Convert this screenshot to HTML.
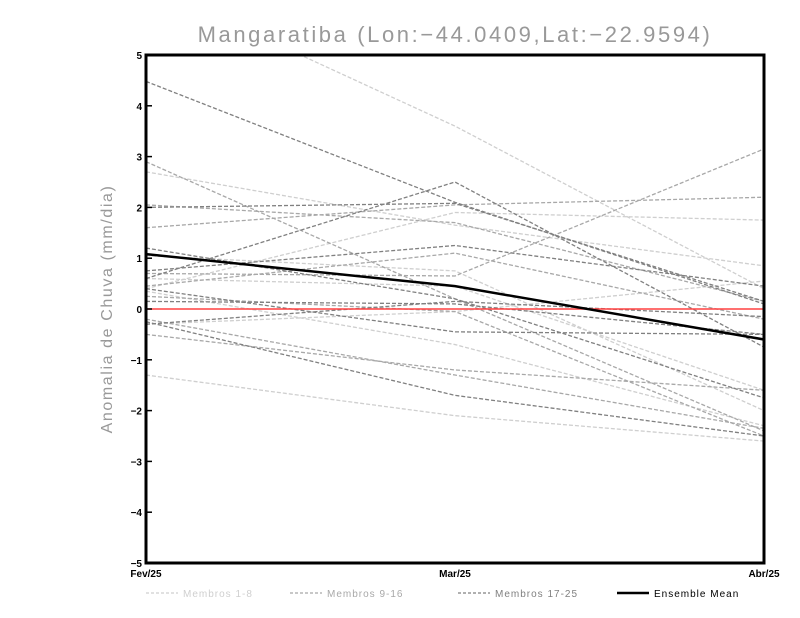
<!DOCTYPE html>
<html><head><meta charset="utf-8"><style>
body{margin:0;background:#fff;}
svg{display:block;font-family:"Liberation Sans",sans-serif;}
</style></head><body>
<svg id="chart" width="800" height="618">
<text x="455" y="42" text-anchor="middle" font-size="22" fill="#999" style="letter-spacing:2.6px">Mangaratiba (Lon:−44.0409,Lat:−22.9594)</text>
<text transform="translate(112,309) rotate(-90)" text-anchor="middle" font-size="16" fill="#999" style="letter-spacing:1.6px">Anomalia de Chuva (mm/dia)</text>
<g id="grid"></g>
<g id="series"></g>
<rect x="146" y="55" width="618" height="508" fill="none" stroke="#000" stroke-width="3"/>
<g id="axes"></g>
<g id="legend"></g>
</svg>
<script>
const categories=["Fev/25","Mar/25","Abr/25"];
const yTicks=[5,4,3,2,1,0,-1,-2,-3,-4,-5];
// group: 1 = Membros 1-8, 2 = 9-16, 3 = 17-25
const memberGroups=[1,1,1,1,1,1,1,1,2,2,2,2,2,2,2,2,3,3,3,3,3,3,3,3,3];
const memberValues=[
[6.4,3.6,0.4],[2.7,1.65,0.85],[0.4,1.9,1.75],[-1.3,-2.1,-2.6],[1.05,0.75,-2.0],[0.35,-0.7,-2.3],[-0.3,-0.05,0.55],[0.6,0.45,-1.6],
[2.9,0.2,-2.4],[1.6,2.05,2.2],[0.7,0.65,3.15],[-0.5,-1.2,-1.6],[0.45,1.1,-0.2],[0.25,-0.05,-2.5],[2.05,1.7,0.15],[-0.2,-1.3,-2.35],
[4.48,2.1,0.1],[2.0,2.08,0.15],[1.2,0.2,-1.75],[0.75,1.25,0.45],[0.15,0.1,-0.5],[-0.25,-1.7,-2.5],[0.6,2.5,-0.75],[0.4,-0.45,-0.5],[-0.3,0.15,-0.15]
];
const ensembleMean=[1.08,0.45,-0.6];
const x0=146,x1=764,y0=55,y1=563;
const xs=i=>x0+(x1-x0)*i/(categories.length-1);
const ys=v=>y1-(v+5)/10*(y1-y0);
const NS="http://www.w3.org/2000/svg";
function mk(t,a,p){const e=document.createElementNS(NS,t);for(const k in a)e.setAttribute(k,a[k]);p.appendChild(e);return e;}
const colors={1:"#cfcfcf",2:"#a8a8a8",3:"#808080"};
const S=document.getElementById("series");
const cp=mk("clipPath",{id:"cp"},S);mk("rect",{x:x0,y:y0,width:x1-x0,height:y1-y0},cp);
const g=mk("g",{"clip-path":"url(#cp)"},S);
memberValues.forEach((vals,i)=>{
 const p=mk("polyline",{points:vals.map((v,j)=>xs(j)+","+ys(v)).join(" "),fill:"none",stroke:colors[memberGroups[i]],"stroke-width":1.3,"stroke-dasharray":"4,2"},g);
 
 
});
const zl=mk("line",{x1:x0,x2:x1,y1:ys(0),y2:ys(0),stroke:"#ff4040","stroke-width":1.5},g);


const em=mk("polyline",{points:ensembleMean.map((v,j)=>xs(j)+","+ys(v)).join(" "),fill:"none",stroke:"#000","stroke-width":2.5},g);


const A=document.getElementById("axes");
yTicks.forEach(v=>{
 const l=mk("line",{x1:x0,x2:x0+6,y1:ys(v),y2:ys(v),stroke:"#000","stroke-width":1.5},A);
 
 
 const t=mk("text",{x:x0-4,y:ys(v)+4,"text-anchor":"end","font-size":10,"font-weight":"bold"},A);
 t.textContent=v<0?"−"+(-v):v;
 
 
});
categories.forEach((c,i)=>{
 const t=mk("text",{x:xs(i),y:577,"text-anchor":"middle","font-size":10,"font-weight":"bold"},A);
 t.textContent=c;
 
 
});
const legendLabels=["Membros 1-8","Membros 9-16","Membros 17-25","Ensemble Mean"];
const legendX=[146,290,458,617];
const L=document.getElementById("legend");
legendLabels.forEach((lab,i)=>{
 const isMean=i===3;
 const l=mk("line",{x1:legendX[i],x2:legendX[i]+32,y1:593,y2:593,stroke:isMean?"#000":colors[i+1],"stroke-width":isMean?2.5:1.2,"stroke-dasharray":isMean?"none":"3,2"},L);
 
 
 const t=mk("text",{x:legendX[i]+37,y:597,"font-size":10,fill:isMean?"#000":colors[i+1],style:"letter-spacing:1px"},L);
 t.textContent=lab;
 
 
});
</script>
</body></html>
